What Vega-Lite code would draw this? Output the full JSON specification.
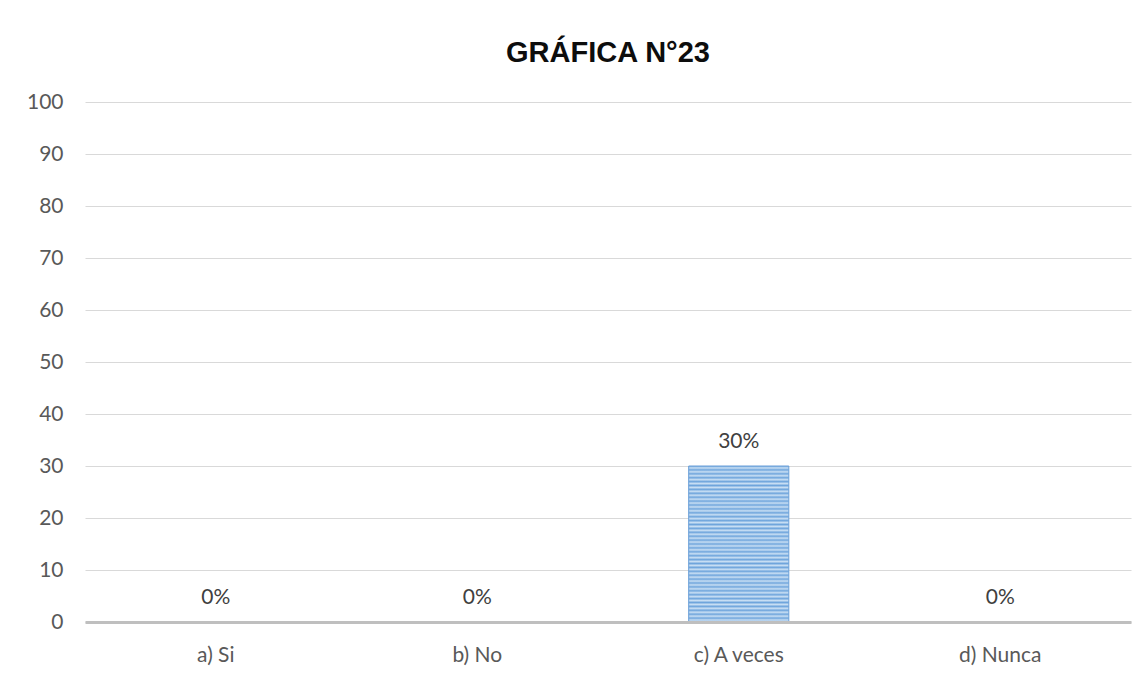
{
  "$schema": "https://vega.github.io/schema/vega-lite/v6.json",
  "width": 1046,
  "height": 520,
  "autosize": {"type": "none"},
  "padding": {"left": 85, "top": 102, "right": 17, "bottom": 57},
  "background": "white",
  "title": {"text": "GRÁFICA N°23", "font": "Liberation Sans", "fontSize": 29, "fontWeight": "bold", "color": "#0D0D0D", "anchor": "middle", "frame": "group", "offset": 38, "dy": 38, "baseline": "alphabetic"},
  "config": {"view": {"stroke": null}, "font": "Lato"},
  "data": {"values": [
    {"respuesta": "a) Si", "porcentaje": 0, "etiqueta": "0%"},
    {"respuesta": "b) No", "porcentaje": 0, "etiqueta": "0%"},
    {"respuesta": "c) A veces", "porcentaje": 30, "etiqueta": "30%"},
    {"respuesta": "d) Nunca", "porcentaje": 0, "etiqueta": "0%"}
  ]},
  "encoding": {
    "x": {"field": "respuesta", "type": "nominal", "sort": null,
      "scale": {"paddingInner": 0.617, "paddingOuter": 0.3085},
      "axis": {"title": null, "labelAngle": 0, "labelFont": "Lato", "labelFontSize": 21, "labelColor": "#595959", "ticks": false, "domainColor": "#BFBFBF", "domainWidth": 3, "labelPadding": 22, "grid": false, "zindex": 1}},
    "y": {"field": "porcentaje", "type": "quantitative",
      "scale": {"domain": [0, 100]},
      "axis": {"title": null, "values": [0, 10, 20, 30, 40, 50, 60, 70, 80, 90, 100], "domain": false, "ticks": false, "labelPadding": 22, "gridColor": "#D9D9D9", "gridWidth": 1, "labelFont": "Lato", "labelFontSize": 21, "labelColor": "#595959"}}
  },
  "layer": [
    {"mark": {"type": "bar", "stroke": "#6A9FD8", "strokeWidth": 1,
      "fill": {"gradient": "linear", "x1": 0, "y1": 0, "x2": 0, "y2": 1, "stops": [
        {"offset": 0, "color": "#6FA5DC"}, {"offset": 0.0125, "color": "#C9DFF4"},
        {"offset": 0.025, "color": "#6FA5DC"}, {"offset": 0.0375, "color": "#C9DFF4"},
        {"offset": 0.05, "color": "#6FA5DC"}, {"offset": 0.0625, "color": "#C9DFF4"},
        {"offset": 0.075, "color": "#6FA5DC"}, {"offset": 0.0875, "color": "#C9DFF4"},
        {"offset": 0.1, "color": "#6FA5DC"}, {"offset": 0.1125, "color": "#C9DFF4"},
        {"offset": 0.125, "color": "#6FA5DC"}, {"offset": 0.1375, "color": "#C9DFF4"},
        {"offset": 0.15, "color": "#6FA5DC"}, {"offset": 0.1625, "color": "#C9DFF4"},
        {"offset": 0.175, "color": "#6FA5DC"}, {"offset": 0.1875, "color": "#C9DFF4"},
        {"offset": 0.2, "color": "#6FA5DC"}, {"offset": 0.2125, "color": "#C9DFF4"},
        {"offset": 0.225, "color": "#6FA5DC"}, {"offset": 0.2375, "color": "#C9DFF4"},
        {"offset": 0.25, "color": "#6FA5DC"}, {"offset": 0.2625, "color": "#C9DFF4"},
        {"offset": 0.275, "color": "#6FA5DC"}, {"offset": 0.2875, "color": "#C9DFF4"},
        {"offset": 0.3, "color": "#6FA5DC"}, {"offset": 0.3125, "color": "#C9DFF4"},
        {"offset": 0.325, "color": "#6FA5DC"}, {"offset": 0.3375, "color": "#C9DFF4"},
        {"offset": 0.35, "color": "#6FA5DC"}, {"offset": 0.3625, "color": "#C9DFF4"},
        {"offset": 0.375, "color": "#6FA5DC"}, {"offset": 0.3875, "color": "#C9DFF4"},
        {"offset": 0.4, "color": "#6FA5DC"}, {"offset": 0.4125, "color": "#C9DFF4"},
        {"offset": 0.425, "color": "#6FA5DC"}, {"offset": 0.4375, "color": "#C9DFF4"},
        {"offset": 0.45, "color": "#6FA5DC"}, {"offset": 0.4625, "color": "#C9DFF4"},
        {"offset": 0.475, "color": "#6FA5DC"}, {"offset": 0.4875, "color": "#C9DFF4"},
        {"offset": 0.5, "color": "#6FA5DC"}, {"offset": 0.5125, "color": "#C9DFF4"},
        {"offset": 0.525, "color": "#6FA5DC"}, {"offset": 0.5375, "color": "#C9DFF4"},
        {"offset": 0.55, "color": "#6FA5DC"}, {"offset": 0.5625, "color": "#C9DFF4"},
        {"offset": 0.575, "color": "#6FA5DC"}, {"offset": 0.5875, "color": "#C9DFF4"},
        {"offset": 0.6, "color": "#6FA5DC"}, {"offset": 0.6125, "color": "#C9DFF4"},
        {"offset": 0.625, "color": "#6FA5DC"}, {"offset": 0.6375, "color": "#C9DFF4"},
        {"offset": 0.65, "color": "#6FA5DC"}, {"offset": 0.6625, "color": "#C9DFF4"},
        {"offset": 0.675, "color": "#6FA5DC"}, {"offset": 0.6875, "color": "#C9DFF4"},
        {"offset": 0.7, "color": "#6FA5DC"}, {"offset": 0.7125, "color": "#C9DFF4"},
        {"offset": 0.725, "color": "#6FA5DC"}, {"offset": 0.7375, "color": "#C9DFF4"},
        {"offset": 0.75, "color": "#6FA5DC"}, {"offset": 0.7625, "color": "#C9DFF4"},
        {"offset": 0.775, "color": "#6FA5DC"}, {"offset": 0.7875, "color": "#C9DFF4"},
        {"offset": 0.8, "color": "#6FA5DC"}, {"offset": 0.8125, "color": "#C9DFF4"},
        {"offset": 0.825, "color": "#6FA5DC"}, {"offset": 0.8375, "color": "#C9DFF4"},
        {"offset": 0.85, "color": "#6FA5DC"}, {"offset": 0.8625, "color": "#C9DFF4"},
        {"offset": 0.875, "color": "#6FA5DC"}, {"offset": 0.8875, "color": "#C9DFF4"},
        {"offset": 0.9, "color": "#6FA5DC"}, {"offset": 0.9125, "color": "#C9DFF4"},
        {"offset": 0.925, "color": "#6FA5DC"}, {"offset": 0.9375, "color": "#C9DFF4"},
        {"offset": 0.95, "color": "#6FA5DC"}, {"offset": 0.9625, "color": "#C9DFF4"},
        {"offset": 0.975, "color": "#6FA5DC"}, {"offset": 0.9875, "color": "#C9DFF4"},
        {"offset": 1, "color": "#6FA5DC"}
      ]}}},
    {"mark": {"type": "text", "dy": -24, "baseline": "middle", "align": "center", "font": "Lato", "fontSize": 21, "color": "#404040"},
      "encoding": {"text": {"field": "etiqueta"}}}
  ]
}
